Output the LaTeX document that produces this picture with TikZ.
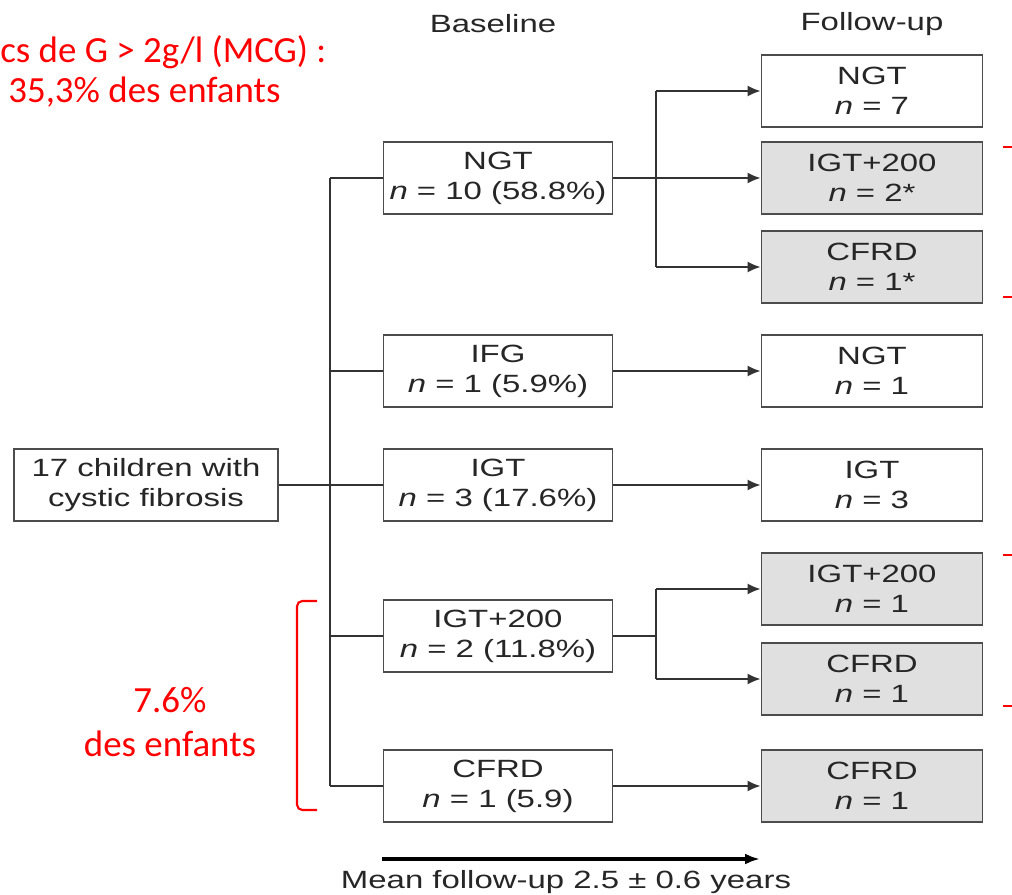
\documentclass[tikz,border=0pt]{standalone}
\usepackage{fontspec}
\setmainfont{Liberation Sans}[FakeStretch=1.32]
\newfontfamily\redfont{Carlito}
\usetikzlibrary{calc, arrows.meta, positioning}
\definecolor{boxline}{gray}{0.3}
\definecolor{linkline}{gray}{0.2}
\definecolor{boxfill}{gray}{0.88}
\tikzset{
  stagebox/.style={draw=boxline, line width=1.1pt, fill=white, minimum width=4.58cm, minimum height=1.44cm, align=center, inner sep=0pt, text=black!85},
  fubox/.style={stagebox, minimum width=4.42cm},
  hit/.style={fill=boxfill},
  link/.style={draw=linkline, line width=0.9pt},
  linkarr/.style={link, -{Latex[length=2.6mm,width=2.2mm]}},
  note/.style={text=red, font=\redfont\fontsize{21}{25}\selectfont, align=center, inner sep=0pt},
}

\begin{document}
\begin{tikzpicture}[x=0.02cm, y=-0.02cm, font=\fontsize{14.2}{17}\selectfont]
  \useasboundingbox (0,0) rectangle (1012,895);
  % headers
  \node[text=black!85] (hBase) at (493,24) {Baseline};
  \node[text=black!85] (hFollow) at (872,24) {Follow-up};
  % start
  \node[stagebox, minimum width=5.28cm] (kids) at (146,485) {17 children with\\cystic fibrosis};
  % baseline column
  \node[stagebox] (bNGT) at (498,178) {NGT\\\textit{n} = 10 (58.8\%)};
  \node[stagebox] (bIFG) at (498,371) {IFG\\\textit{n} = 1 (5.9\%)};
  \node[stagebox] (bIGT) at (498,485) {IGT\\\textit{n} = 3 (17.6\%)};
  \node[stagebox] (bIGTp) at (498,636) {IGT+200\\\textit{n} = 2 (11.8\%)};
  \node[stagebox] (bCFRD) at (498,786) {CFRD\\\textit{n} = 1 (5.9)};
  % follow-up column
  \node[fubox] (fNGTa) at (872,91) {NGT\\\textit{n} = 7};
  \node[fubox, hit] (fIGTpa) at (872,178) {IGT+200\\\textit{n} = 2*};
  \node[fubox, hit] (fCFRDa) at (872,267) {CFRD\\\textit{n} = 1*};
  \node[fubox] (fNGTb) at (872,371) {NGT\\\textit{n} = 1};
  \node[fubox] (fIGTb) at (872,485) {IGT\\\textit{n} = 3};
  \node[fubox, hit] (fIGTpb) at (872,589) {IGT+200\\\textit{n} = 1};
  \node[fubox, hit] (fCFRDb) at (872,679) {CFRD\\\textit{n} = 1};
  \node[fubox, hit] (fCFRDc) at (872,786) {CFRD\\\textit{n} = 1};

  % trunk to baseline
  \coordinate (trunk) at (330,0);
  \coordinate (forkA) at (656,0);
  \draw[link] (trunk |- bNGT.west) -- (trunk |- bCFRD.west);
  \foreach \b in {bNGT,bIFG,bIGTp,bCFRD}
    \draw[link] (trunk |- \b.west) -- (\b.west);
  \draw[link] (kids.east) -- (bIGT.west);

  % baseline to follow-up
  \draw[linkarr] (bNGT.east) -- (fIGTpa.west);
  \draw[link] (forkA |- fNGTa.west) -- (forkA |- fCFRDa.west);
  \draw[linkarr] (forkA |- fNGTa.west) -- (fNGTa.west);
  \draw[linkarr] (forkA |- fCFRDa.west) -- (fCFRDa.west);
  \draw[linkarr] (bIFG.east) -- (fNGTb.west);
  \draw[linkarr] (bIGT.east) -- (fIGTb.west);
  \draw[link] (bIGTp.east) -- (forkA |- bIGTp.east);
  \draw[link] (forkA |- fIGTpb.west) -- (forkA |- fCFRDb.west);
  \draw[linkarr] (forkA |- fIGTpb.west) -- (fIGTpb.west);
  \draw[linkarr] (forkA |- fCFRDb.west) -- (fCFRDb.west);
  \draw[linkarr] (bCFRD.east) -- (fCFRDc.west);

  % time axis
  \coordinate (fuStart) at (382,859);
  \coordinate (fuEnd) at (760,859);
  \draw[line width=2pt, -{Latex[length=3mm,width=2.2mm]}] (fuStart) -- (fuEnd);
  \node[text=black!85] (fuLabel) at (566,882) {Mean follow-up 2.5 ± 0.6 years};

  % red notes
  \node[note, anchor=west] (mcgTop) at (0,52) {cs de G > 2g/l (MCG) :};
  \node[note, anchor=west] (mcgPct) at (8,92) {35,3\% des enfants};
  \node[note] (pctLow) at (170,722) {7.6\%\\des enfants};
  \draw[red, line width=1.2pt, rounded corners=3pt] (317,601) -- (297,601) -- (297,810) -- (317,810);
  \foreach \y in {147,297,555,706}
    \draw[red, line width=1.4pt] (1003,\y) -- (1012,\y);
\end{tikzpicture}
\end{document}
